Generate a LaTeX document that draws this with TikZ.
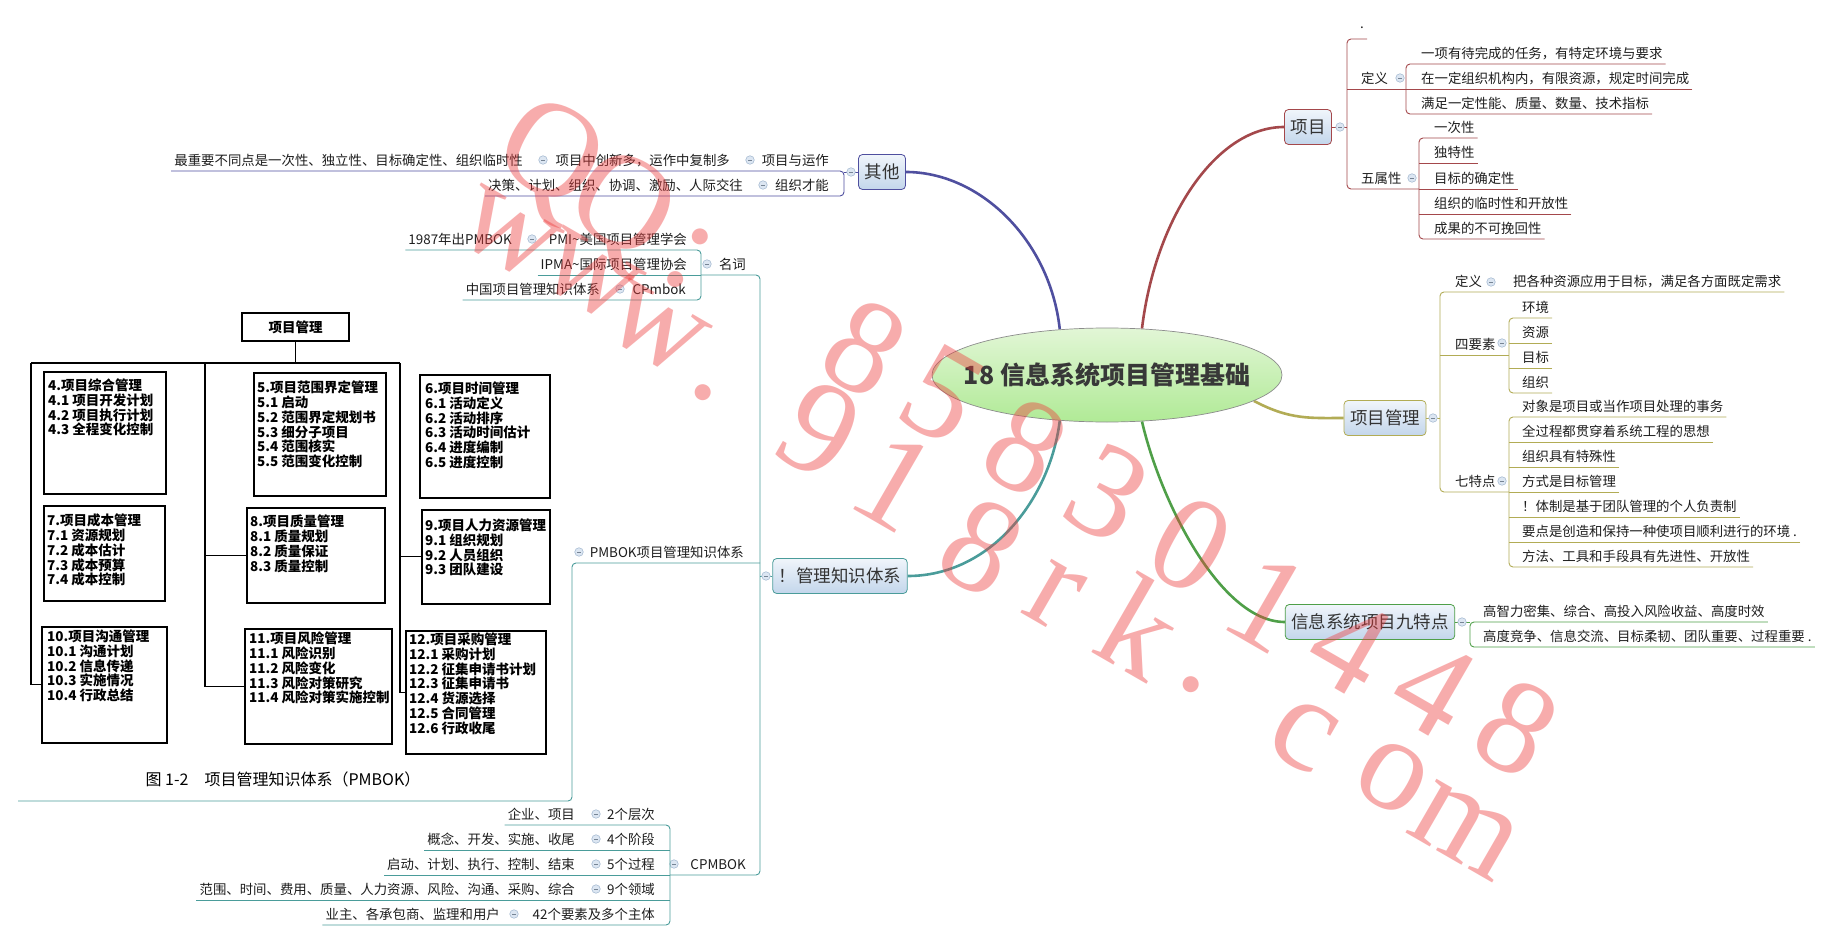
\documentclass[tikz,border=0pt]{standalone}
\usepackage{fontspec}
\setmainfont{Noto Sans CJK SC}
\newfontfamily\wmfont{Liberation Serif}
\usetikzlibrary{shapes.geometric,backgrounds}
\definecolor{cR}{HTML}{A4484B}
\definecolor{cO}{HTML}{B2AC55}
\definecolor{cG}{HTML}{4F9F48}
\definecolor{cB}{HTML}{4F4F9F}
\definecolor{cT}{HTML}{4A9C9A}
\definecolor{nTop}{HTML}{F0F5FB}
\definecolor{nBot}{HTML}{C3D6EB}
\definecolor{rTop}{HTML}{E2F6D6}
\definecolor{rBot}{HTML}{B0EA96}
\definecolor{txt}{HTML}{1E1E1E}
\definecolor{cfill}{HTML}{DCE6F2}
\definecolor{cbord}{HTML}{A9BDD3}
\definecolor{wmred}{HTML}{EE3B3B}
\newcommand\lffont{\fontsize{13.4pt}{16pt}\selectfont}
\newcommand\bxfont{\fontsize{17.5pt}{20pt}\selectfont}
\newcommand\rtfont{\fontsize{25pt}{28pt}\selectfont\bfseries}
\newcommand\fgfont{\fontsize{13.5pt}{14.7pt}\selectfont\bfseries}
\newcommand\capfont{\fontsize{16pt}{18pt}\selectfont}
\newcommand\wmfs{\fontsize{135pt}{140pt}\selectfont}
\begin{document}
\begin{tikzpicture}[x=1pt,y=-1pt,
  lfR/.style={anchor=south west, inner xsep=3pt, inner ysep=0pt, text height=10pt, text depth=5.5pt, font=\lffont, text=txt},
  lfL/.style={lfR, anchor=south east},
  mbox/.style={rounded corners=4pt, top color=nTop, bottom color=nBot, line width=0.8pt, inner xsep=6pt, inner ysep=0pt, minimum height=35pt, font=\bxfont, text=black!80},
  coll/.style={circle, draw=cbord, fill=cfill, line width=0.6pt, minimum size=8.5pt, inner sep=0pt, path picture={\draw[draw=cbord!70!black, line width=0.8pt] ([xshift=2.3pt]path picture bounding box.west) -- ([xshift=-2.3pt]path picture bounding box.east);}},
  rc/.style={rounded corners=4pt},
  lnR/.style={draw=cR, line width=0.9pt},
  lnO/.style={draw=cO, line width=0.9pt},
  lnG/.style={draw=cG, line width=0.9pt},
  lnB/.style={draw=cB, line width=0.9pt},
  lnT/.style={draw=cT, line width=0.9pt},
  br/.style={draw=#1, line width=2.6pt},
  figbox/.style={draw=black, line width=1.5pt, anchor=north west, inner sep=0pt},
  ftext/.style={anchor=north west, inner sep=0pt, align=left, font=\fgfont, text=black},
  fl/.style={draw=black, line width=1.4pt},
  wm/.style={font=\wmfont\wmfs, text=wmred, opacity=0.42, rotate=-30, inner sep=0pt}
]
\useasboundingbox (0,0) rectangle (1838,941);

% ---------- root ----------
\node[ellipse, draw=black!45, line width=0.7pt, minimum width=350pt, minimum height=94pt, inner sep=0pt, top color=rTop, bottom color=rBot] (root) at (1107,375) {};
\node[font=\rtfont, text=black!78, inner sep=0pt] (rootT) at (root.center) {18 信息系统项目管理基础};

% ---------- 项目 ----------
\node[mbox, draw=cR] (xm) at (1308,127) {项目};
\coordinate (B1) at (1347,127);
\draw[lnR] (xm.east) -- (B1);
\node[coll] (xmc) at (1340,127) {};
\node[lfR] (x0) at (1357,39) {\raisebox{5pt}{.}};
\node[lfR] (xdy) at (1358,89) {定义};
\node[coll] (xdyc) at (1400,78) {};
\coordinate (B2) at (1406,89);
\node[lfR] (xd1) at (1418,64) {一项有待完成的任务，有特定环境与要求};
\node[lfR] (xd2) at (1418,89) {在一定组织机构内，有限资源，规定时间完成};
\node[lfR] (xd3) at (1418,114) {满足一定性能、质量、数量、技术指标};
\node[lfR] (xwsx) at (1358,189) {五属性};
\node[coll] (xwsxc) at (1412,178) {};
\coordinate (B3) at (1419,189);
\node[lfR] (xw1) at (1431,138) {一次性};
\node[lfR] (xw2) at (1431,163) {独特性};
\node[lfR] (xw3) at (1431,189) {目标的确定性};
\node[lfR] (xw4) at (1431,214) {组织的临时性和开放性};
\node[lfR] (xw5) at (1431,239) {成果的不可挽回性};
\draw[lnR, rc] (x0.south east) -| (B1 |- xwsx.south) -- (B3);
\draw[lnR] (B1 |- xdy.south) -- (B2);
\draw[lnR, rc] (xd1.south east) -| (B2 |- xd3.south) -- (xd3.south east);
\draw[lnR] (xd2.south east) -- (B2);
\draw[lnR, rc] (xw1.south east) -| (B3 |- xw5.south) -- (xw5.south east);
\draw[lnR] (xw2.south east) -- (B3 |- xw2.south);
\draw[lnR] (xw3.south east) -- (B3);
\draw[lnR] (xw4.south east) -- (B3 |- xw4.south);

% ---------- 项目管理 ----------
\node[mbox, draw=cO] (xmgl) at (1385,418) {项目管理};
\coordinate (P1) at (1440,418);
\draw[lnO] (xmgl.east) -- (P1);
\node[coll] (xmglc) at (1433,418) {};
\node[lfR] (gdy) at (1452,292) {定义};
\node[coll] (gdyc) at (1491,282) {};
\node[lfR] (gd1) at (1510,292) {把各种资源应用于目标，满足各方面既定需求};
\node[lfR] (gsys) at (1452,355) {四要素};
\node[coll] (gsysc) at (1502,343) {};
\coordinate (P2) at (1509,355);
\node[lfR] (gs1) at (1519,318) {环境};
\node[lfR] (gs2) at (1519,343) {资源};
\node[lfR] (gs3) at (1519,368) {目标};
\node[lfR] (gs4) at (1519,393) {组织};
\node[lfR] (gqtd) at (1452,492) {七特点};
\node[coll] (gqtdc) at (1502,481) {};
\coordinate (P3) at (1509,492);
\node[lfR] (gq1) at (1519,417) {对象是项目或当作项目处理的事务};
\node[lfR] (gq2) at (1519,442) {全过程都贯穿着系统工程的思想};
\node[lfR] (gq3) at (1519,467) {组织具有特殊性};
\node[lfR] (gq4) at (1519,492) {方式是目标管理};
\node[lfR] (gq5) at (1519,517) {！体制是基于团队管理的个人负责制};
\node[lfR] (gq6) at (1519,542) {要点是创造和保持一种使项目顺利进行的环境 .};
\node[lfR] (gq7) at (1519,567) {方法、工具和手段具有先进性、开放性};
\draw[lnO, rc] (gd1.south east) -| (P1 |- gqtd.south) -- (P3);
\draw[lnO] (P1 |- gsys.south) -- (P2);
\draw[lnO, rc] (gs1.south east) -| (P2 |- gs4.south) -- (gs4.south east);
\draw[lnO] (gs2.south east) -- (P2 |- gs2.south);
\draw[lnO] (gs3.south east) -- (P2 |- gs3.south);
\draw[lnO, rc] (gq1.south east) -| (P3 |- gq7.south) -- (gq7.south east);
\draw[lnO] (gq2.south east) -- (P3 |- gq2.south);
\draw[lnO] (gq3.south east) -- (P3 |- gq3.south);
\draw[lnO] (gq4.south east) -- (P3);
\draw[lnO] (gq5.south east) -- (P3 |- gq5.south);
\draw[lnO] (gq6.south east) -- (P3 |- gq6.south);

% ---------- 信息系统项目九特点 ----------
\node[mbox, draw=cG] (jtd) at (1370,622) {信息系统项目九特点};
\coordinate (J1) at (1470,622);
\draw[lnG] (jtd.east) -- (J1);
\node[coll] (jtdc) at (1462,622) {};
\node[lfR] (j1) at (1480,622) {高智力密集、综合、高投入风险收益、高度时效};
\node[lfR] (j2) at (1480,647) {高度竞争、信息交流、目标柔韧、团队重要、过程重要 .};
\draw[lnG, rc] (j1.south east) -| (J1 |- j2.south) -- (j2.south east);

% ---------- 其他 ----------
\node[mbox, draw=cB] (qt) at (882,172) {其他};
\coordinate (Q1) at (844,172);
\draw[lnB] (qt.west) -- (Q1);
\node[coll] (qtc) at (851,172) {};
\node[lfL] (qy) at (832,171) {项目与运作};
\node[coll] (qyc) at (750,160) {};
\node[lfL] (qy1) at (733,171) {项目中创新多，运作中复制多};
\node[coll] (qy1c) at (543,160) {};
\node[lfL] (qy2) at (526,171) {最重要不同点是一次性、独立性、目标确定性、组织临时性};
\node[lfL] (qz) at (832,196) {组织才能};
\node[coll] (qzc) at (763,185) {};
\node[lfL] (qz1) at (746,196) {决策、计划、组织、协调、激励、人际交往};
\draw[lnB, rc] (qy2.south west) -| (Q1 |- qz.south) -- (qz1.south west);

% ---------- 管理知识体系 ----------
\node[mbox, draw=cT] (zs) at (840,576) {！管理知识体系};
\coordinate (M1) at (760,576);
\draw[lnT] (zs.west) -- (M1);
\node[coll] (zsc) at (766,576) {};
\node[lfL] (mc) at (749,275) {名词};
\node[coll] (mcc) at (707,264) {};
\coordinate (N1) at (701,275);
\node[lfL] (mc1) at (690,250) {PMI\textasciitilde 美国项目管理学会};
\node[coll] (mc1c) at (532,239) {};
\node[lfL] (mc1a) at (515,250) {1987年出PMBOK};
\node[lfL] (mc2) at (690,275) {IPMA\textasciitilde 国际项目管理协会};
\node[lfL] (mc3) at (689,300) {CPmbok};
\node[coll] (mc3c) at (620,289) {};
\node[lfL] (mc3a) at (603,300) {中国项目管理知识体系};
\node[lfL] (pb) at (747,563) {PMBOK项目管理知识体系};
\node[coll] (pbc) at (579,552) {};
\coordinate (M2) at (572,563);
\coordinate (F1) at (572,801);
\coordinate (F0) at (18,801);
\node[lfL] (cp) at (749,875) {CPMBOK};
\node[coll] (cpc) at (674,864) {};
\coordinate (C1) at (670,875);
\node[lfL] (cp1) at (658,825) {2个层次};
\node[coll] (cp1c) at (596,814) {};
\node[lfL] (cp1a) at (578,825) {企业、项目};
\node[lfL] (cp2) at (658,850) {4个阶段};
\node[coll] (cp2c) at (596,839) {};
\node[lfL] (cp2a) at (578,850) {概念、开发、实施、收尾};
\node[lfL] (cp3) at (658,875) {5个过程};
\node[coll] (cp3c) at (596,864) {};
\node[lfL] (cp3a) at (578,875) {启动、计划、执行、控制、结束};
\node[lfL] (cp4) at (658,900) {9个领域};
\node[coll] (cp4c) at (596,889) {};
\node[lfL] (cp4a) at (578,900) {范围、时间、费用、质量、人力资源、风险、沟通、采购、综合};
\node[lfL] (cp5) at (658,925) {42个要素及多个主体};
\node[coll] (cp5c) at (514,914) {};
\node[lfL] (cp5a) at (503,925) {业主、各承包商、监理和用户};
\draw[lnT, rc] (N1) -| (M1 |- C1) -- (C1);
\draw[lnT, rc] (M1 |- pb.south) -- (M2) -- (F1) -- (F0);
\draw[lnT, rc] (mc1a.south west) -| (N1 |- mc3.south) -- (mc3a.south west);
\draw[lnT] (mc2.south west) -- (N1);
\draw[lnT, rc] (cp1a.south west) -| (C1 |- cp5.south) -- (cp5a.south west);
\draw[lnT] (cp2a.south west) -- (C1 |- cp2a.south);
\draw[lnT] (cp3a.south west) -- (C1);
\draw[lnT] (cp4a.south west) -- (C1 |- cp4a.south);

% ---------- PMBOK figure ----------
\node[figbox, anchor=center, minimum width=107pt, minimum height=28pt, font=\fgfont] (fpm) at (295.5,327) {项目管理};
\node[figbox, minimum width=122pt, minimum height=122pt] (f4) at (43,371) {};
\node[figbox, minimum width=132pt, minimum height=123pt] (f5) at (253,372) {};
\node[figbox, minimum width=130pt, minimum height=123pt] (f6) at (419,374) {};
\node[figbox, minimum width=121pt, minimum height=95pt] (f7) at (43,505) {};
\node[figbox, minimum width=138pt, minimum height=95pt] (f8) at (246,507) {};
\node[figbox, minimum width=128pt, minimum height=94pt] (f9) at (421,509) {};
\node[figbox, minimum width=125pt, minimum height=116pt] (f10) at (41,626) {};
\node[figbox, minimum width=147pt, minimum height=115pt] (f11) at (244,628) {};
\node[figbox, minimum width=140pt, minimum height=123pt] (f12) at (405,630) {};
\node[ftext] (t4) at (48,379) {4.项目综合管理\\4.1 项目开发计划\\4.2 项目执行计划\\4.3 全程变化控制};
\node[ftext] (t5) at (257,381) {5.项目范围界定管理\\5.1 启动\\5.2 范围界定规划书\\5.3 细分子项目\\5.4 范围核实\\5.5 范围变化控制};
\node[ftext] (t6) at (425,382) {6.项目时间管理\\6.1 活动定义\\6.2 活动排序\\6.3 活动时间估计\\6.4 进度编制\\6.5 进度控制};
\node[ftext] (t7) at (47,514) {7.项目成本管理\\7.1 资源规划\\7.2 成本估计\\7.3 成本预算\\7.4 成本控制};
\node[ftext] (t8) at (250,515) {8.项目质量管理\\8.1 质量规划\\8.2 质量保证\\8.3 质量控制};
\node[ftext] (t9) at (425,519) {9.项目人力资源管理\\9.1 组织规划\\9.2 人员组织\\9.3 团队建设};
\node[ftext] (t10) at (47,630) {10.项目沟通管理\\10.1 沟通计划\\10.2 信息传递\\10.3 实施情况\\10.4 行政总结};
\node[ftext] (t11) at (249,632) {11.项目风险管理\\11.1 风险识别\\11.2 风险变化\\11.3 风险对策研究\\11.4 风险对策实施控制};
\node[ftext] (t12) at (409,633) {12.项目采购管理\\12.1 采购计划\\12.2 征集申请书计划\\12.3 征集申请书\\12.4 货源选择\\12.5 合同管理\\12.6 行政收尾};
\node[font=\capfont, text=black] (fcap) at (283,779) {图 1-2\quad 项目管理知识体系（PMBOK）};
\coordinate (fTL) at (31,363);
\coordinate (fTM) at (205,363);
\coordinate (fTR) at (400,363);
\draw[fl] (fpm.south) -- (fpm.south |- fTL);
\draw[fl] (fTL) -- (fTR);
\draw[fl] (fTL) |- (f10.west);
\draw[fl] (fTM) |- (f11.west);
\draw[fl] (fTM |- f8.west) -- (f8.west);
\draw[fl] (fTR) |- (f12.west);
\draw[fl] (fTR |- f9.west) -- (f9.west);

% ---------- main branches (behind) ----------
\begin{scope}[on background layer]
\fill[white] (0,0) rectangle (1838,941);
\draw[br=cB] (root.136) .. controls (1050,240) and (980,172) .. (qt.east);
\draw[br=cR] (root.53) .. controls (1155,220) and (1215,127) .. (xm.west);
\draw[br=cO] (root.-10) .. controls (1290,420) and (1310,418) .. (xmgl.west);
\draw[br=cG] (root.-53) .. controls (1160,500) and (1220,622) .. (jtd.west);
\draw[br=cT] (root.-136) .. controls (1050,500) and (990,576) .. (zs.east);
\end{scope}

% ---------- watermark ----------
\foreach \c/\x/\y [count=\i] in {Q/548/160, Q/620/212, :/688/258, 8/865/348, 5/942/395, 8/1026/447, 3/1108/493, 0/1191/545, 1/1268/603, 4/1350/646, 4/1434/688, 8/1517/728}
  \node[wm] (wa\i) at (\x,\y) {\c};
\foreach \c/\x/\y [count=\i] in {w/508/235, w/590/277, w/656/330, ./703/393, 9/820/430, 1/895/482, 8/982/547, r/1054/595, k/1141/627, ./1191/685, c/1303/735, o/1392/777, m/1465/830}
  \node[wm] (wb\i) at (\x,\y) {\c};
\end{tikzpicture}
\end{document}
